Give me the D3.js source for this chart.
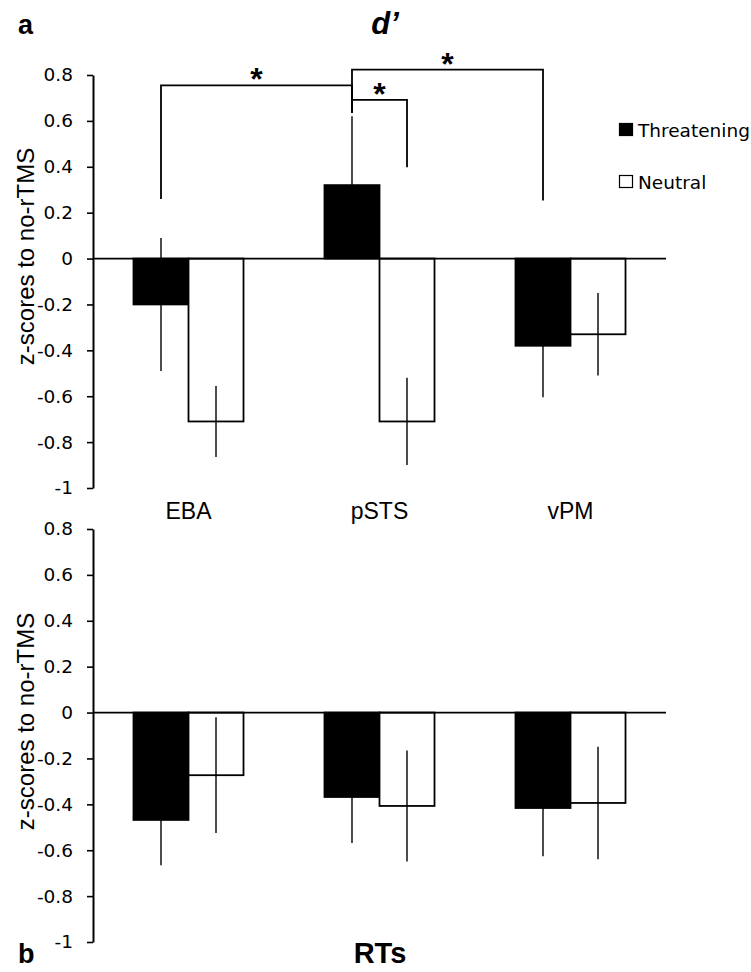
<!DOCTYPE html>
<html>
<head>
<meta charset="utf-8">
<script src="https://cdn.jsdelivr.net/npm/d3@7"></script>
<style>
  body { margin: 0; background: #fff; }
  text { fill: #000; }
</style>
</head>
<body>
<svg id="chart"></svg>
<script>
var categories = ["EBA", "pSTS", "vPM"];
var series = ["Threatening", "Neutral"];

// d' panel (a)
var dprimeThreat = [-0.20, 0.32, -0.38];
var dprimeThreatErr = [0.29, 0.30, 0.225];
var dprimeNeutral = [-0.71, -0.71, -0.33];
var dprimeNeutralErr = [0.155, 0.19, 0.18];

// RT panel (b)
var rtThreat = [-0.468, -0.368, -0.416];
var rtThreatErr = [0.198, 0.2, 0.21];
var rtNeutral = [-0.273, -0.407, -0.394];
var rtNeutralErr = [0.252, 0.242, 0.245];

var tickValues = [0.8, 0.6, 0.4, 0.2, 0, -0.2, -0.4, -0.6, -0.8, -1];
var tickLabels = ["0.8", "0.6", "0.4", "0.2", "0", "-0.2", "-0.4", "-0.6", "-0.8", "-1"];

// significance brackets on panel a: [fromCat, fromSeries, toCat, toSeries, height, fromLegEnd, toLegEnd]
var brackets = [
  ["EBA", "Threatening", "pSTS", "Threatening", 0.755, 0.26, 0.636],
  ["pSTS", "Threatening", "pSTS", "Neutral", 0.692, 0.636, 0.398],
  ["pSTS", "Threatening", "vPM", "Threatening", 0.823, 0.636, 0.253]
];

var width = 751, height = 972;
var svg = d3.select("#chart").attr("width", width).attr("height", height);

var x0 = d3.scaleBand().domain(categories).range([93, 666])
    .paddingInner(0.424).paddingOuter(0.212);
var x1 = d3.scaleBand().domain(series).range([0, x0.bandwidth()]);

var fill = d3.scaleOrdinal().domain(series).range(["#000", "#fff"]);

function barCenter(cat, s) {
  return x0(cat) + x1(s) + x1.bandwidth() / 2;
}

function drawPanel(top, bottom, threat, threatErr, neutral, neutralErr, labelShift) {
  var y = d3.scaleLinear().domain([-1, 0.8]).range([bottom, top]);
  var g = svg.append("g");

  var rows = [];
  categories.forEach(function(c, i) {
    rows.push({cat: c, s: "Threatening", v: threat[i], e: threatErr[i]});
    rows.push({cat: c, s: "Neutral", v: neutral[i], e: neutralErr[i]});
  });

  g.selectAll("rect.bar")
    .data(rows)
    .enter()
    .append("rect")
    .attr("class", "bar")
    .attr("x", (d) => x0(d.cat) + x1(d.s))
    .attr("width", x1.bandwidth())
    .attr("y", (d) => y(Math.max(0, d.v)))
    .attr("height", (d) => Math.abs(y(d.v) - y(0)))
    .attr("fill", (d) => fill(d.s))
    .attr("stroke", "#000")
    .attr("stroke-width", 1.8);

  // error lines
  g.selectAll("line.err")
    .data(rows)
    .enter()
    .append("line")
    .attr("class", "err")
    .attr("x1", (d) => barCenter(d.cat, d.s))
    .attr("x2", (d) => barCenter(d.cat, d.s))
    .attr("y1", (d) => y(d.v + d.e))
    .attr("y2", (d) => y(d.v - d.e))
    .attr("stroke", "#000")
    .attr("stroke-width", 1.4);

  // zero line
  g.append("line")
    .attr("x1", 93).attr("x2", 666)
    .attr("y1", y(0)).attr("y2", y(0))
    .attr("stroke", "#000").attr("stroke-width", 1.8);

  var yAxis = d3.axisLeft(y)
    .tickValues(tickValues)
    .tickFormat((d, i) => tickLabels[i])
    .tickSize(6)
    .tickSizeOuter(0)
    .tickPadding(14);

  var ax = g.append("g")
    .attr("transform", "translate(93,0)")
    .call(yAxis);
  ax.select(".domain").attr("stroke-width", 2);
  ax.selectAll(".tick line").attr("stroke-width", 1.6);
  ax.selectAll(".tick text")
    .attr("font-family", "DejaVu Sans")
    .attr("font-size", 18.5)
    .attr("fill", "#000");

  g.append("text")
    .attr("transform", "translate(34," + ((top + bottom) / 2 + labelShift) + ") rotate(-90)")
    .attr("text-anchor", "middle")
    .attr("font-family", "Liberation Sans")
    .attr("font-size", 24)
    .text("z-scores to no-rTMS");

  return y;
}

var yA = drawPanel(75, 488, dprimeThreat, dprimeThreatErr, dprimeNeutral, dprimeNeutralErr, -25);
drawPanel(529, 942, rtThreat, rtThreatErr, rtNeutral, rtNeutralErr, -14);

// category labels between the panels
svg.append("g").selectAll("text")
  .data(categories)
  .enter()
  .append("text")
  .attr("x", (d) => x0(d) + x0.bandwidth() / 2)
  .attr("y", 519)
  .attr("text-anchor", "middle")
  .attr("font-family", "Liberation Sans")
  .attr("font-size", 23)
  .text((d) => d);

// brackets
var bg = svg.append("g");
brackets.forEach(function(b) {
  var xa = barCenter(b[0], b[1]);
  var xb = barCenter(b[2], b[3]);
  var yl = yA(b[4]);
  bg.append("path")
    .attr("d", "M" + xa + "," + yA(b[5]) + "V" + yl + "H" + xb + "V" + yA(b[6]))
    .attr("fill", "none")
    .attr("stroke", "#000")
    .attr("stroke-width", 1.8);
  bg.append("text")
    .attr("x", (xa + xb) / 2)
    .attr("y", yl + 5)
    .attr("text-anchor", "middle")
    .attr("font-family", "Liberation Sans")
    .attr("font-weight", "bold")
    .attr("font-size", 32)
    .text("*");
});

// legend
var lg = svg.append("g").attr("transform", "translate(619,123)");
series.forEach(function(s, i) {
  lg.append("rect")
    .attr("x", 0.5).attr("y", i * 52 + 0.5)
    .attr("width", 13).attr("height", 12)
    .attr("fill", fill(s))
    .attr("stroke", "#000")
    .attr("stroke-width", 1.2);
  lg.append("text")
    .attr("x", 19).attr("y", i * 52 + 14)
    .attr("font-family", "DejaVu Sans")
    .attr("font-size", 18.5)
    .text(s);
});

// panel titles
svg.append("text").attr("x", 18).attr("y", 34)
  .attr("font-family", "Liberation Sans").attr("font-weight", "bold")
  .attr("font-size", 27).text("a");
svg.append("text").attr("x", 385).attr("y", 34)
  .attr("text-anchor", "middle")
  .attr("font-family", "Liberation Sans").attr("font-weight", "bold")
  .attr("font-style", "italic").attr("font-size", 31).text("d\u2019");
svg.append("text").attr("x", 18).attr("y", 963)
  .attr("font-family", "Liberation Sans").attr("font-weight", "bold")
  .attr("font-size", 27).text("b");
svg.append("text").attr("x", 380).attr("y", 963)
  .attr("text-anchor", "middle")
  .attr("font-family", "Liberation Sans").attr("font-weight", "bold")
  .attr("font-size", 29).text("RTs");
</script>
</body>
</html>
